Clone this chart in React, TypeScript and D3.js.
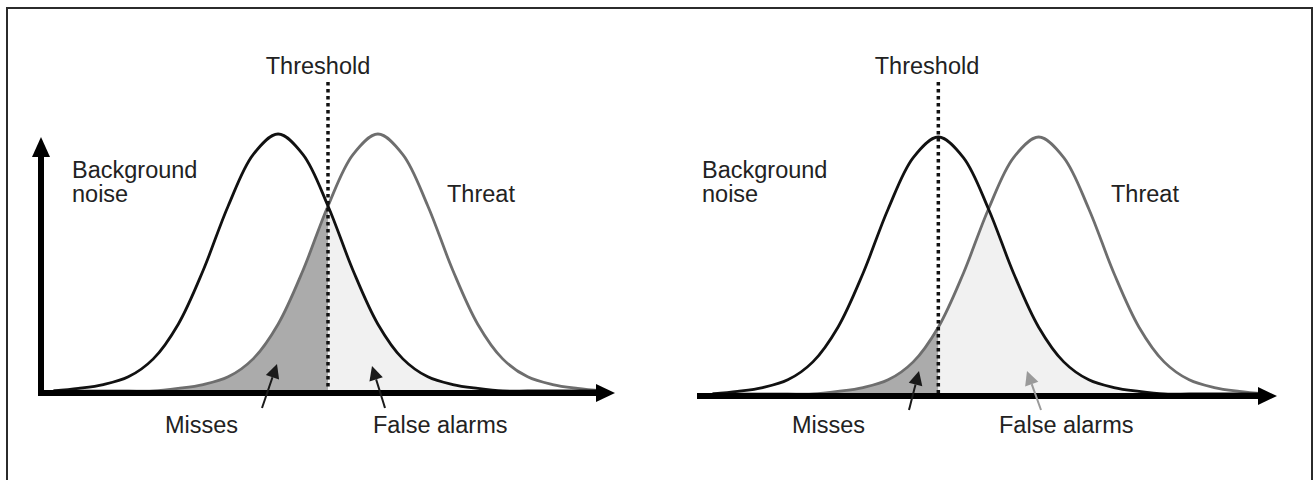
import React from 'react';
import * as d3 from 'd3';

// signal strength grid (arbitrary units) and the two response curves
const signal = [-0.5, 0, 0.5, 1, 1.5, 2, 2.5, 3, 3.5, 4, 4.5, 5, 5.5, 6, 6.5, 7, 7.5, 8, 8.5, 9, 9.5, 10, 10.5];
const noise = [0, 0.01, 0.025, 0.055, 0.125, 0.26, 0.47, 0.72, 0.92, 1, 0.92, 0.72, 0.47, 0.26, 0.125, 0.055, 0.025, 0.01, 0, 0, 0, 0, 0];
const threat = [0, 0, 0, 0, 0, 0.01, 0.025, 0.055, 0.125, 0.26, 0.47, 0.72, 0.92, 1, 0.92, 0.72, 0.47, 0.26, 0.125, 0.055, 0.025, 0.01, 0];
const thresholds = [5, 4];

const labelThreshold = 'Threshold';
const labelNoise = ['Background', 'noise'];
const labelThreat = 'Threat';
const labelMisses = 'Misses';
const labelFalse = 'False alarms';

const font = '"Liberation Sans", Arial, sans-serif';

const panels = [
  {
    x0: 41, x1: 615, base: 391, top: 134, axisY: 393, yAxis: true,
    threshLabelX: 318, noiseX: 72, threatX: 447, missesX: 165, falseX: 373,
    missArrow: { x1: 262, y1: 408, x2: 277, y2: 364, color: '#1a1a1a' },
    falseArrow: { x1: 385, y1: 408, x2: 372, y2: 366, color: '#1a1a1a' },
  },
  {
    x0: 700, x1: 1277, base: 394, top: 137, axisY: 396, yAxis: false,
    threshLabelX: 927, noiseX: 702, threatX: 1111, missesX: 792, falseX: 999,
    missArrow: { x1: 909, y1: 410, x2: 919, y2: 371, color: '#1a1a1a' },
    falseArrow: { x1: 1041, y1: 410, x2: 1027, y2: 371, color: '#9a9a9a' },
  },
];

type Arrow = { x1: number; y1: number; x2: number; y2: number; color: string };

const Pointer = ({ a }: { a: Arrow }) => {
  const ang = Math.atan2(a.y2 - a.y1, a.x2 - a.x1);
  const len = 14, hw = 7;
  const bx = a.x2 - len * Math.cos(ang), by = a.y2 - len * Math.sin(ang);
  const px = -Math.sin(ang) * hw, py = Math.cos(ang) * hw;
  return (
    <g>
      <line x1={a.x1} y1={a.y1} x2={bx} y2={by} stroke={a.color} strokeWidth={2} />
      <polygon points={`${a.x2},${a.y2} ${bx + px},${by + py} ${bx - px},${by - py}`} fill={a.color} />
    </g>
  );
};

const Panel = ({ p, i }: { p: typeof panels[number]; i: number }) => {
  const x = d3.scaleLinear().domain([-0.75, 10.75]).range([p.x0, p.x1]);
  const y = d3.scaleLinear().domain([0, 1]).range([p.base, p.top]);
  const pts = signal.map((s, k) => ({ s, n: noise[k], t: threat[k] }));

  const noiseLine = d3.line<any>().x(d => x(d.s)).y(d => y(d.n)).curve(d3.curveCatmullRom)(pts) || '';
  const threatLine = d3.line<any>().x(d => x(d.s)).y(d => y(d.t)).curve(d3.curveCatmullRom)(pts) || '';
  const noiseArea = d3.area<any>().x(d => x(d.s)).y0(y(0)).y1(d => y(d.n)).curve(d3.curveCatmullRom)(pts) || '';
  const threatArea = d3.area<any>().x(d => x(d.s)).y0(y(0)).y1(d => y(d.t)).curve(d3.curveCatmullRom)(pts) || '';
  const tx = x(thresholds[i]);

  return (
    <g>
      <defs>
        <clipPath id={`noise-${i}`}><path d={noiseArea} /></clipPath>
        <clipPath id={`left-${i}`}><rect x={p.x0} y={0} width={tx - p.x0} height={480} /></clipPath>
        <clipPath id={`right-${i}`}><rect x={tx} y={0} width={p.x1 - tx} height={480} /></clipPath>
      </defs>

      <g clipPath={`url(#noise-${i})`}>
        <path d={threatArea} fill="#ababab" clipPath={`url(#left-${i})`} />
        <path d={threatArea} fill="#f1f1f1" clipPath={`url(#right-${i})`} />
      </g>

      <path d={threatLine} fill="none" stroke="#6e6e6e" strokeWidth={2.8} />
      <path d={noiseLine} fill="none" stroke="#111" strokeWidth={2.8} />

      <line x1={tx} x2={tx} y1={82} y2={p.axisY} stroke="#111" strokeWidth={3.5} strokeDasharray="3.5 3.5" />

      {/* axes */}
      <line x1={p.x0 - 3} x2={p.x1 - 14} y1={p.axisY} y2={p.axisY} stroke="#000" strokeWidth={6} />
      <polygon points={`${p.x1},${p.axisY} ${p.x1 - 19},${p.axisY - 9} ${p.x1 - 19},${p.axisY + 9}`} fill="#000" />
      {p.yAxis && (
        <g>
          <line x1={p.x0} x2={p.x0} y1={p.axisY + 3} y2={152} stroke="#000" strokeWidth={6} />
          <polygon points={`${p.x0},137 ${p.x0 - 9},157 ${p.x0 + 9},157`} fill="#000" />
        </g>
      )}

      <Pointer a={p.missArrow} />
      <Pointer a={p.falseArrow} />

      <g fontFamily={font} fontSize={23.5} fill="#222">
        <text x={p.threshLabelX} y={74} textAnchor="middle">{labelThreshold}</text>
        <text x={p.noiseX} y={178}>{labelNoise[0]}</text>
        <text x={p.noiseX} y={202}>{labelNoise[1]}</text>
        <text x={p.threatX} y={202}>{labelThreat}</text>
        <text x={p.missesX} y={433}>{labelMisses}</text>
        <text x={p.falseX} y={433}>{labelFalse}</text>
      </g>
    </g>
  );
};

export default function App() {
  return (
    <svg width={1316} height={480} style={{ position: 'absolute', left: 0, top: 0, background: '#fff' }}>
      <rect x={0} y={0} width={1316} height={480} fill="#fff" />
      <rect x={7} y={8} width={1305} height={490} fill="none" stroke="#2b2b2b" strokeWidth={2} />
      {panels.map((p, i) => <Panel key={i} p={p} i={i} />)}
    </svg>
  );
}
